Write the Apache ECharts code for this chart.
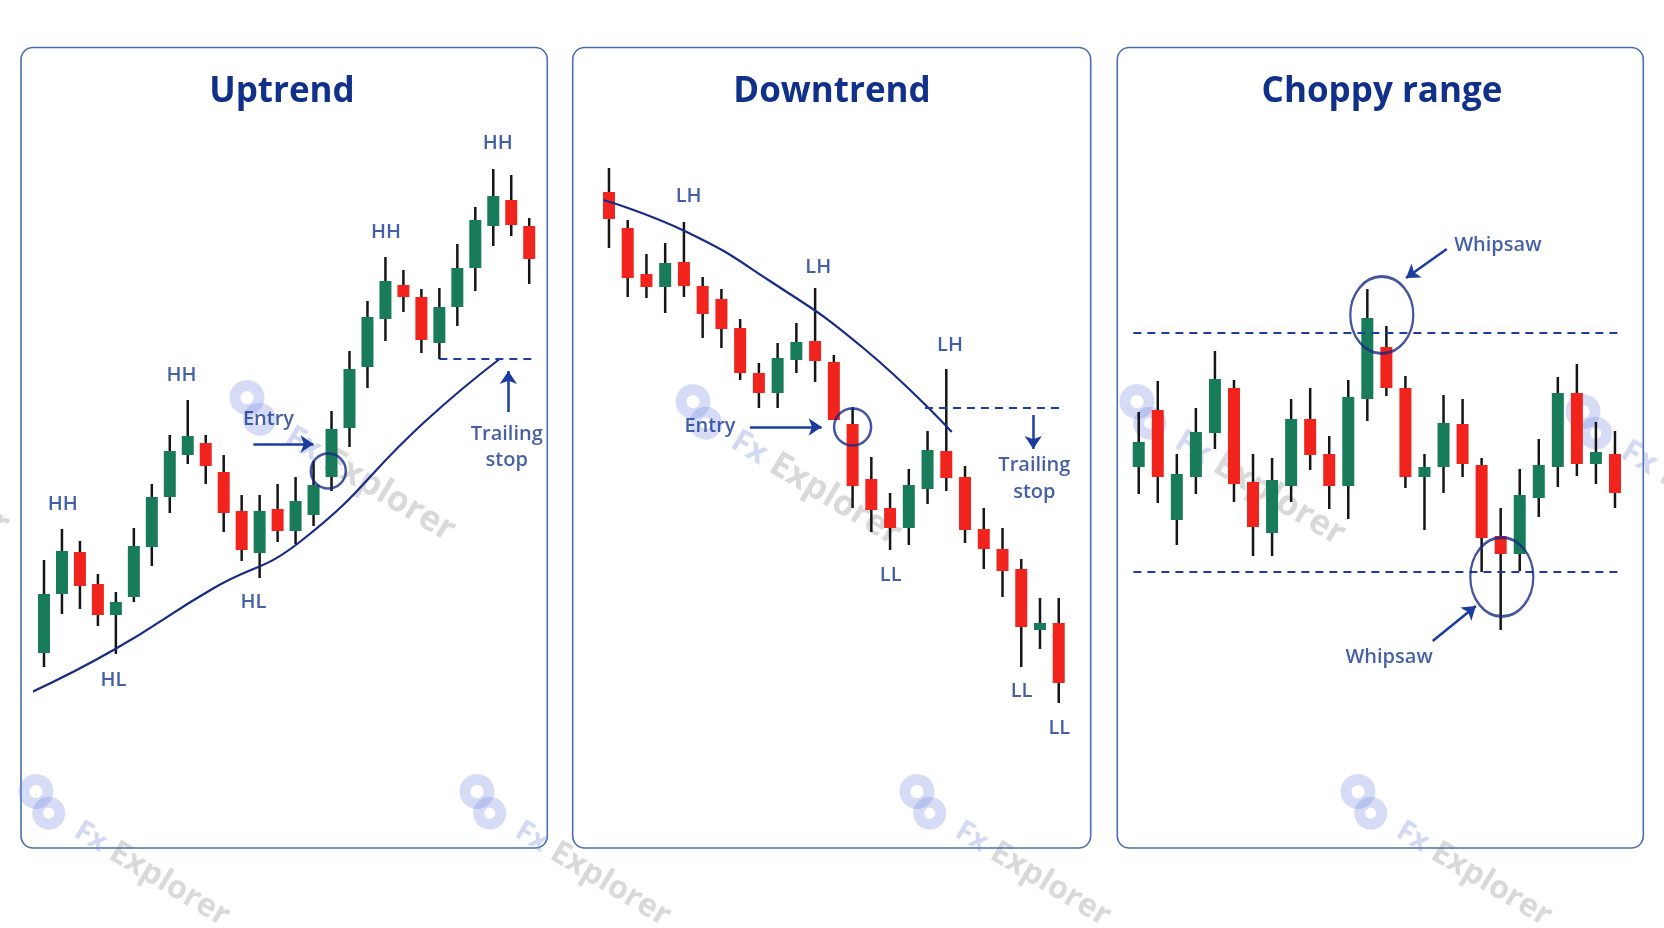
<!DOCTYPE html>
<html>
<head>
<meta charset="utf-8">
<script src="https://cdn.jsdelivr.net/npm/echarts@6/dist/echarts.min.js"></script>
<style>
html,body{margin:0;padding:0;background:#ffffff;}
#c{width:1664px;height:928px;}
</style>
</head>
<body>
<div id="c"></div>
<script>
// ---------- DATA (price units) ----------
// Each row: [open, close, low, high]
const upCandles = [
  [24.7,30.6,23.3,34.0],[30.6,34.9,28.6,37.1],[34.8,31.4,29.1,35.9],[31.6,28.5,27.4,32.6],
  [28.5,29.8,24.6,30.8],[30.3,35.4,29.8,37.2],[35.3,40.3,33.4,41.6],[40.3,44.9,38.7,46.5],
  [44.5,46.4,43.6,50.0],[45.7,43.4,41.6,46.5],[42.8,38.7,36.8,44.5],[38.9,35.0,33.9,40.5],
  [34.7,38.9,32.2,40.5],[39.1,36.9,35.8,41.6],[36.9,39.9,35.6,42.3],[38.5,41.5,37.4,43.9],
  [42.3,47.1,40.9,48.9],[47.2,53.1,45.3,54.9],[53.3,58.3,51.2,59.9],[58.1,61.9,55.9,64.3],
  [61.5,60.3,58.8,63.0],[60.3,56.0,54.7,61.1],[55.7,59.3,54.1,61.2],[59.3,63.2,57.4,65.6],
  [63.2,68.0,60.9,69.3],[67.4,70.4,65.4,73.1],[70.0,67.5,66.4,72.5],[67.4,64.1,61.6,68.2]
];
const downCandles = [
  [70.8,68.1,65.2,73.2],[67.2,62.2,60.3,68.0],[62.6,61.3,60.2,64.6],[61.3,63.7,58.7,65.7],
  [63.8,61.4,60.3,67.8],[61.4,58.6,56.2,62.3],[60.1,57.1,55.2,61.1],[57.2,52.7,52.0,58.1],
  [52.7,50.7,49.2,53.7],[50.7,54.2,49.2,55.7],[54.0,55.8,52.7,57.7],[55.9,53.9,51.8,61.2],
  [53.8,48.0,48.0,54.5],[47.6,41.4,39.2,49.3],[42.1,39.0,36.8,44.3],[39.2,37.2,35.0,40.7],
  [37.2,41.5,35.5,43.1],[41.1,45.0,39.6,46.9],[44.9,42.2,40.9,53.1],[42.3,37.0,35.7,43.4],
  [37.1,35.1,33.1,39.2],[35.1,32.9,30.3,37.2],[33.1,27.3,23.3,34.1],[27.0,27.7,25.1,30.2],
  [27.7,21.7,19.7,30.2]
];
const rangeCandles = [
  [43.3,45.8,40.6,48.8],[49.0,42.3,39.7,51.9],[38.0,42.6,35.5,44.6],[42.3,46.8,40.6,49.2],
  [46.7,52.1,45.1,54.9],[51.2,41.6,39.8,52.0],[41.8,37.3,34.4,44.6],[36.7,42.0,34.4,44.2],
  [41.4,48.1,39.8,50.1],[48.1,44.5,43.0,51.2],[44.6,41.4,39.1,46.4],[41.4,50.3,38.1,52.0],
  [50.1,58.2,47.9,61.1],[55.3,51.2,50.4,57.4],[51.2,42.3,41.2,52.4],[42.3,43.3,37.0,44.6],
  [43.3,47.7,40.7,50.5],[47.6,43.6,42.3,50.1],[43.5,36.2,32.8,44.2],[36.4,34.6,27.0,39.2],
  [34.6,40.5,32.9,43.1],[40.2,43.5,38.3,46.1],[43.3,50.7,41.3,52.3],[50.7,43.6,42.4,53.6],
  [43.6,44.8,41.6,47.8],[44.6,40.7,39.2,46.9]
];
// Trend lines [candle index, price]
const upTrendLine = [[-0.8,20.7],[3.87,25.0],[9.36,31.1],[14.3,35.9],[21.17,47.8],[25.35,54.1]];
const downTrendLine = [[-0.3,70.0],[4.15,66.8],[8.59,61.9],[13.57,55.2],[18.29,46.8]];
// Levels
const upStop = 54.1, downStop = 49.2, rangeTop = 56.7, rangeBottom = 32.8;
// Annotation labels [index, price, text]
const upLabels = [[1.04,39.6,'HH'],[7.65,52.5,'HH'],[19.03,66.8,'HH'],[25.25,75.7,'HH'],
  [3.87,22.0,'HL'],[11.66,29.8,'HL'],[12.49,48.1,'Entry'],[25.75,46.6,'Trailing'],[25.75,44.0,'stop']];
const downLabels = [[4.25,70.4,'LH'],[11.17,63.3,'LH'],[18.2,55.5,'LH'],[15.03,32.5,'LL'],
  [22.02,20.9,'LL'],[24.03,17.2,'LL'],[5.39,47.4,'Entry'],[22.7,43.5,'Trailing'],[22.7,40.8,'stop']];
const rangeLabels = [[18.85,65.5,'Whipsaw'],[13.14,24.3,'Whipsaw']];
const titles = ['Uptrend','Downtrend','Choppy range'];

// ---------- STYLE / LAYOUT ----------
const GREEN = '#187b59', RED = '#f0231d', WICK = '#151515', NAVY = '#173891', LINE = '#172a84';
const panels = [[21,47.5,526.3,800.5],[572.7,47.5,518,800.5],[1117.3,47.5,526,800.5]];
const grids = [
  {left:35.0, width:503.2, n:28},
  {left:599.6, width:468.5, n:25},
  {left:1129.2, width:495.3, n:26}
];
const TOP = 100, HEIGHT = 700, YMIN = 10, YMAX = 80;

function candleRows(rows){ return rows.map((r,i)=>[i,r[0],r[1],r[2],r[3]]); }
function renderCandle(params, api){
  const x = api.value(0), o = api.value(1), c = api.value(2), l = api.value(3), h = api.value(4);
  const pO = api.coord([x,o]), pC = api.coord([x,c]), pL = api.coord([x,l]), pH = api.coord([x,h]);
  const w = 12;
  const top = Math.min(pO[1],pC[1]);
  const ht = Math.max(Math.abs(pO[1]-pC[1]), 2);
  return {type:'group', children:[
    {type:'line', shape:{x1:pH[0],y1:pH[1],x2:pL[0],y2:pL[1]}, style:{stroke:WICK,lineWidth:2.5}},
    {type:'rect', shape:{x:pO[0]-w/2,y:top,width:w,height:ht}, style:{fill: c>=o?GREEN:RED}}
  ]};
}

const series = [];
function idx(g){ return {xAxisIndex:g, yAxisIndex:g}; }
function addCandles(g, rows){
  series.push(Object.assign({type:'custom', renderItem:renderCandle, data:candleRows(rows), z:3}, idx(g)));
}
function addLabels(g, rows){
  series.push(Object.assign({type:'scatter', symbolSize:1, itemStyle:{color:'rgba(0,0,0,0)'}, z:6, silent:true,
    label:{show:true, position:'inside', formatter:p=>p.value[2], color:NAVY, fontSize:20,
      fontFamily:'"Open Sans", sans-serif', fontWeight:600},
    data:rows}, idx(g)));
}
function addLine(g, pts, opts, smooth){
  series.push(Object.assign({type:'line', data:pts, symbol:'none', clip:false, z:4, silent:true,
    smooth: smooth || false,
    lineStyle:Object.assign({color:LINE, width:2.2}, opts||{})}, idx(g)));
}
function addArrow(g, from, to){
  series.push(Object.assign({type:'lines', coordinateSystem:'cartesian2d', z:5, silent:true,
    symbol:['none','arrow'], symbolSize:13,
    lineStyle:{color:'#1d3ca0', width:2.5, opacity:1},
    data:[{coords:[from,to]}]}, idx(g)));
}
function addRing(g, pos, size){
  series.push(Object.assign({type:'scatter', symbol:'circle', symbolSize:size, z:5, silent:true,
    itemStyle:{color:'rgba(0,0,0,0)', borderColor:LINE, borderWidth:2.5}, data:[pos]}, idx(g)));
}

// Uptrend
addLine(0, upTrendLine, {}, 0.5);
addCandles(0, upCandles);
addLine(0, [[22.0,upStop],[27.43,upStop]], {type:[8,6], color:'#1d3ca0'});
addArrow(0, [11.65,45.6],[15.0,45.6]);
addArrow(0, [25.84,48.8],[25.84,52.9]);
addRing(0, [15.82,42.9], 35);
addLabels(0, upLabels);

// Downtrend
addLine(1, downTrendLine, {}, 0.5);
addCandles(1, downCandles);
addLine(1, [[16.86,downStop],[24.24,downStop]], {type:[8,6], color:'#1d3ca0'});
addArrow(1, [7.52,47.3],[11.35,47.3]);
addArrow(1, [22.64,48.5],[22.64,45.1]);
addRing(1, [13.0,47.3], 37);
addLabels(1, downLabels);

// Choppy range
addCandles(2, rangeCandles);
addLine(2, [[-0.28,rangeTop],[25.35,rangeTop]], {type:[8,6], color:'#1d3ca0'});
addLine(2, [[-0.28,rangeBottom],[25.35,rangeBottom]], {type:[8,6], color:'#1d3ca0'});
addRing(2, [12.76,58.5], [63,77]);
addRing(2, [19.06,32.3], [63,79]);
addArrow(2, [16.17,65.1],[14.03,62.2]);
addArrow(2, [15.43,25.9],[17.7,29.4]);
addLabels(2, rangeLabels);

// Graphics: panels, titles, watermarks
const graphics = [];
panels.forEach((p,i)=>{
  graphics.push({type:'rect', z:0, silent:true, shape:{x:p[0],y:p[1],width:p[2],height:p[3],r:12},
    style:{fill:'#ffffff', stroke:'#4a6db3', lineWidth:1.6}});
});
const titleX = [282, 832, 1382];
titles.forEach((t,i)=>{
  graphics.push({type:'text', z:10, silent:true, x:titleX[i], y:92,
    style:{text:t, fill:'#11308a', fontSize:35, fontWeight:'bold', fontFamily:'"Open Sans", sans-serif',
      align:'center', verticalAlign:'middle'}});
});
const wmBottom = [[42,801],[483,801],[923,801],[1364,801]];
const wmMid = [[253,407],[699,411],[1143,411],[1589,421],[-193,402]];
function addWatermark(w, size){
  graphics.push({type:'group', x:w[0], y:w[1], rotation:-0.54, z:20, silent:true, children:[
    {type:'circle', shape:{cx:-10,cy:-5,r:12}, style:{fill:'none', stroke:'rgba(120,140,225,0.3)', lineWidth:11}},
    {type:'circle', shape:{cx:12,cy:7,r:11}, style:{fill:'none', stroke:'rgba(120,140,225,0.3)', lineWidth:11}},
    {type:'text', x:44, y:6, style:{text:'{a|Fx}{b| Explorer}', verticalAlign:'middle', align:'left',
      rich:{a:{fill:'rgba(130,145,220,0.35)', fontSize:size-3, fontWeight:'bold', fontFamily:'"Open Sans", sans-serif'},
            b:{fill:'rgba(120,120,120,0.28)', fontSize:size, fontWeight:'bold', fontFamily:'"Open Sans", sans-serif'}}}}
  ]});
}
wmBottom.forEach(w=>addWatermark(w, 32));
wmMid.forEach(w=>addWatermark(w, 35));

const option = {
  backgroundColor:'#ffffff',
  animation:false,
  grid: grids.map(g=>({left:g.left, width:g.width, top:TOP, height:HEIGHT})),
  xAxis: grids.map((g,i)=>({type:'value', gridIndex:i, min:-0.5, max:g.n-0.5, show:false})),
  yAxis: grids.map((g,i)=>({type:'value', gridIndex:i, min:YMIN, max:YMAX, show:false})),
  graphic: graphics,
  series: series
};
const chart = echarts.init(document.getElementById('c'), null, {renderer:'canvas'});
chart.setOption(option);
</script>
</body>
</html>
